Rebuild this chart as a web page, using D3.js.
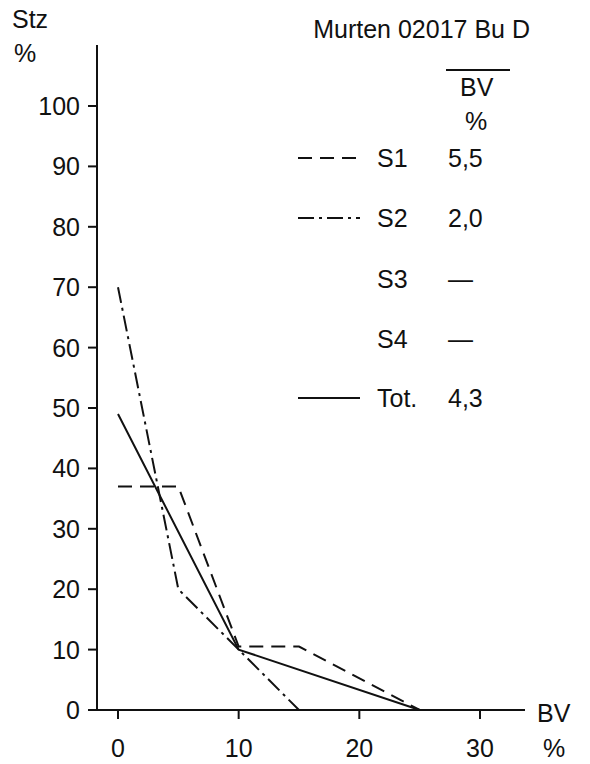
<!DOCTYPE html>
<html><head><meta charset="utf-8">
<script src="https://cdn.jsdelivr.net/npm/d3@7"></script>
<style>body{margin:0;background:#fff}text{font-family:"Liberation Sans",Arial,sans-serif;fill:#111}</style>
</head><body><svg id="c" width="590" height="764"></svg>
<script>
const xTicks = [0, 10, 20, 30];
const yTicks = [0, 10, 20, 30, 40, 50, 60, 70, 80, 90, 100];
const s1 = [[0, 37], [5, 37], [10, 10.5], [15, 10.5], [25, 0]];
const s2 = [[0, 70], [5, 20], [10, 10], [15, 0]];
const tot = [[0, 49], [10, 10], [25, 0]];
const legendNames = ['S1', 'S2', 'S3', 'S4', 'Tot.'];
const legendValues = ['5,5', '2,0', '—', '—', '4,3'];
const legendDash = ['14,8', '16,5,3,5', null, null, ''];

const svg = d3.select('#c');
const x = d3.scaleLinear().domain([0, 30]).range([118, 480]);
const y = d3.scaleLinear().domain([0, 100]).range([710, 106]);
const ink = '#111';

svg.append('line').attr('x1', 97).attr('x2', 97).attr('y1', 45).attr('y2', 710).attr('stroke', ink).attr('stroke-width', 2);
svg.append('line').attr('x1', 97).attr('x2', 525).attr('y1', 710).attr('y2', 710).attr('stroke', ink).attr('stroke-width', 2);

yTicks.forEach(t => {
  svg.append('line').attr('x1', 88).attr('x2', 97).attr('y1', y(t)).attr('y2', y(t)).attr('stroke', ink).attr('stroke-width', 2);
  svg.append('text').attr('x', 80).attr('y', y(t) + 9).attr('text-anchor', 'end').attr('font-size', 25).text(t);
});
xTicks.forEach(t => {
  svg.append('line').attr('x1', x(t)).attr('x2', x(t)).attr('y1', 710).attr('y2', 719).attr('stroke', ink).attr('stroke-width', 2);
  svg.append('text').attr('x', x(t)).attr('y', 757).attr('text-anchor', 'middle').attr('font-size', 25).text(t);
});

const line = d3.line().x(d => x(d[0])).y(d => y(d[1]));
[[s1, legendDash[0]], [s2, legendDash[1]], [tot, legendDash[4]]].forEach(([d, dash]) => {
  svg.append('path').attr('d', line(d)).attr('fill', 'none').attr('stroke', ink)
    .attr('stroke-width', 2).attr('stroke-dasharray', dash || null);
});

const rowY = [158, 218, 279, 339, 398];
legendNames.forEach((n, i) => {
  if (legendDash[i] !== null) {
    svg.append('line').attr('x1', 298).attr('x2', 360).attr('y1', rowY[i]).attr('y2', rowY[i])
      .attr('stroke', ink).attr('stroke-width', 2).attr('stroke-dasharray', legendDash[i] || null);
  }
  svg.append('text').attr('x', 377).attr('y', rowY[i] + 9).attr('font-size', 25).text(n);
  svg.append('text').attr('x', 448).attr('y', rowY[i] + 9).attr('font-size', 25).text(legendValues[i]);
});

svg.append('text').attr('x', 12).attr('y', 28).attr('font-size', 25).text('Stz');
svg.append('text').attr('x', 14).attr('y', 62).attr('font-size', 25).text('%');
svg.append('text').attr('x', 530).attr('y', 38).attr('text-anchor', 'end').attr('font-size', 25).text('Murten 02017 Bu D');
svg.append('line').attr('x1', 446).attr('x2', 510).attr('y1', 70).attr('y2', 70).attr('stroke', ink).attr('stroke-width', 2);
svg.append('text').attr('x', 460).attr('y', 96).attr('font-size', 25).text('BV');
svg.append('text').attr('x', 465).attr('y', 130).attr('font-size', 25).text('%');
svg.append('text').attr('x', 537).attr('y', 722).attr('font-size', 25).text('BV');
svg.append('text').attr('x', 543).attr('y', 757).attr('font-size', 25).text('%');
</script></body></html>
